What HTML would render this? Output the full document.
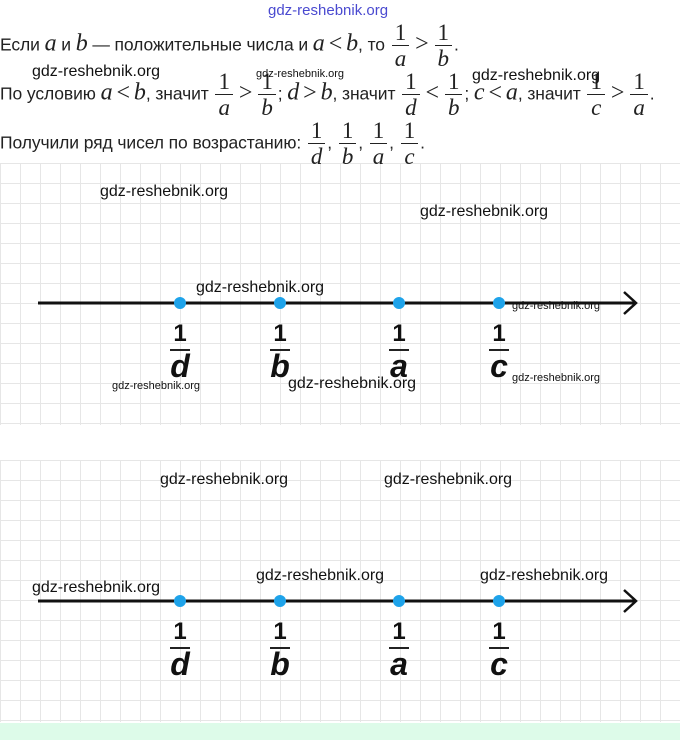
<!DOCTYPE html>
<html><head><meta charset="utf-8"><style>
body{margin:0;width:680px;height:740px;background:#fff;position:relative;overflow:hidden;font-family:"Liberation Sans",sans-serif}
.t{position:absolute;left:0;font-size:17.5px;color:#222;white-space:nowrap;letter-spacing:-0.1px}
.m{font-family:"Liberation Serif",serif;font-style:italic;font-size:24px}
.op{font-family:"Liberation Serif",serif;font-size:24px;margin:0 4px}
.fr{display:inline-block;vertical-align:middle;text-align:center;font-family:"Liberation Serif",serif;font-size:23px;line-height:22px;margin:0 2px}
.fr span{display:block}
.fr .n{border-bottom:1px solid #222;padding:0 3px 1px}
.fr .d{font-style:italic;padding-top:2px}
.w{position:absolute;font-size:16px;color:#111;white-space:nowrap}
.ws{position:absolute;font-size:11px;color:#111;white-space:nowrap}
.grid{position:absolute;left:0;width:680px;background-image:linear-gradient(#e6e6e6 1px,transparent 1px),linear-gradient(90deg,#e6e6e6 1px,transparent 1px);background-size:20px 20px}
.lbl{position:absolute;width:40px;text-align:center;font-family:"Liberation Sans",sans-serif;font-weight:bold;color:#111}
.lbl .o{font-size:24px;line-height:24px;display:block}
.lbl .b{display:block;width:20px;height:2px;background:#222;margin:3px auto 0}
.lbl .l{font-size:32px;line-height:30px;font-style:italic;display:block}
</style></head><body>
<div class="grid" style="top:163px;height:262px;background-position:0 0"></div>
<div class="grid" style="top:460px;height:262px"></div>
<div style="position:absolute;left:0;top:723px;width:680px;height:17px;background:#ddfbe9"></div>

<div style="position:absolute;left:268px;top:2px;font-size:15px;color:#4a4ad0">gdz-reshebnik.org</div>
<div class="t" style="top:22px">Если <span class="m">a</span> и <span class="m">b</span> — положительные числа и <span class="m">a</span><span class="op">&lt;</span><span class="m">b</span>, то <span class="fr"><span class="n">1</span><span class="d">a</span></span><span class="op">&gt;</span><span class="fr"><span class="n">1</span><span class="d">b</span></span>.</div>
<div class="t" style="top:71px">По условию <span class="m">a</span><span class="op">&lt;</span><span class="m">b</span>, значит <span class="fr"><span class="n">1</span><span class="d">a</span></span><span class="op">&gt;</span><span class="fr"><span class="n">1</span><span class="d">b</span></span>; <span class="m">d</span><span class="op">&gt;</span><span class="m">b</span>, значит <span class="fr"><span class="n">1</span><span class="d">d</span></span><span class="op">&lt;</span><span class="fr"><span class="n">1</span><span class="d">b</span></span>; <span class="m">c</span><span class="op">&lt;</span><span class="m">a</span>, значит <span class="fr"><span class="n">1</span><span class="d">c</span></span><span class="op">&gt;</span><span class="fr"><span class="n">1</span><span class="d">a</span></span>.</div>
<div class="t" style="top:120px">Получили ряд чисел по возрастанию: <span class="fr"><span class="n">1</span><span class="d">d</span></span>, <span class="fr"><span class="n">1</span><span class="d">b</span></span>, <span class="fr"><span class="n">1</span><span class="d">a</span></span>, <span class="fr"><span class="n">1</span><span class="d">c</span></span>.</div>
<div class="w" style="left:32px;top:63px">gdz-reshebnik.org</div>
<div class="ws" style="left:256px;top:68px">gdz-reshebnik.org</div>
<div class="w" style="left:472px;top:67px">gdz-reshebnik.org</div>

<svg style="position:absolute;left:0;top:0" width="680" height="740">
<g stroke="#111" stroke-width="3" fill="none">
<line x1="38" y1="303" x2="636" y2="303"/><polyline points="624,292 636,303 624,314" stroke-width="2.5"/>
<line x1="38" y1="601" x2="636" y2="601"/><polyline points="624,590 636,601 624,612" stroke-width="2.5"/>
</g>
<g fill="#1ea3ea">
<circle cx="180" cy="303" r="6"/><circle cx="280" cy="303" r="6"/><circle cx="399" cy="303" r="6"/><circle cx="499" cy="303" r="6"/>
<circle cx="180" cy="601" r="6"/><circle cx="280" cy="601" r="6"/><circle cx="399" cy="601" r="6"/><circle cx="499" cy="601" r="6"/>
</g></svg>

<div class="lbl" style="left:160px;top:322px"><span class="o">1</span><span class="b"></span><span class="l">d</span></div>
<div class="lbl" style="left:260px;top:322px"><span class="o">1</span><span class="b"></span><span class="l">b</span></div>
<div class="lbl" style="left:379px;top:322px"><span class="o">1</span><span class="b"></span><span class="l">a</span></div>
<div class="lbl" style="left:479px;top:322px"><span class="o">1</span><span class="b"></span><span class="l">c</span></div>
<div class="lbl" style="left:160px;top:620px"><span class="o">1</span><span class="b"></span><span class="l">d</span></div>
<div class="lbl" style="left:260px;top:620px"><span class="o">1</span><span class="b"></span><span class="l">b</span></div>
<div class="lbl" style="left:379px;top:620px"><span class="o">1</span><span class="b"></span><span class="l">a</span></div>
<div class="lbl" style="left:479px;top:620px"><span class="o">1</span><span class="b"></span><span class="l">c</span></div>

<div class="w" style="left:100px;top:183px">gdz-reshebnik.org</div>
<div class="w" style="left:420px;top:203px">gdz-reshebnik.org</div>
<div class="w" style="left:196px;top:279px">gdz-reshebnik.org</div>
<div class="ws" style="left:512px;top:300px">gdz-reshebnik.org</div>
<div class="ws" style="left:112px;top:380px">gdz-reshebnik.org</div>
<div class="w" style="left:288px;top:375px">gdz-reshebnik.org</div>
<div class="ws" style="left:512px;top:372px">gdz-reshebnik.org</div>
<div class="w" style="left:160px;top:471px">gdz-reshebnik.org</div>
<div class="w" style="left:384px;top:471px">gdz-reshebnik.org</div>
<div class="w" style="left:32px;top:579px">gdz-reshebnik.org</div>
<div class="w" style="left:256px;top:567px">gdz-reshebnik.org</div>
<div class="w" style="left:480px;top:567px">gdz-reshebnik.org</div>
</body></html>
